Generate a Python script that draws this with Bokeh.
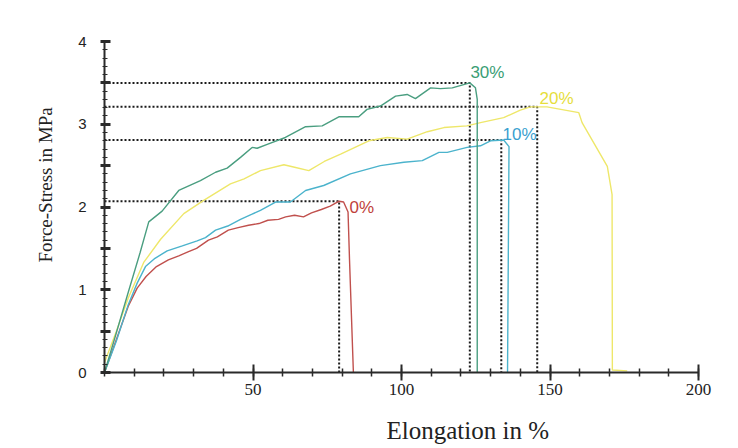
import math
from bokeh.plotting import figure
from bokeh.models import FixedTicker, Range1d, ColumnDataSource, Title, LinearAxis
from bokeh.core.properties import value
from bokeh.embed import file_html
from bokeh.resources import INLINE

# ---- data ----
x_0 = [0, 4, 8, 11, 14, 17.5, 21.5, 25, 28.3, 31, 35, 38, 41.7, 45, 48.5, 52, 55, 58.6,
       61, 64, 67, 69.7, 73, 76, 79, 80.5, 82, 82.5, 83.8]
y_0 = [0, 0.4, 0.8, 1.02, 1.16, 1.28, 1.36, 1.41, 1.46, 1.5, 1.6, 1.64, 1.72, 1.75, 1.78, 1.8, 1.84, 1.85,
       1.88, 1.9, 1.88, 1.93, 1.97, 2.01, 2.07, 2.06, 1.94, 1.36, 0]

x_10 = [0, 4, 8, 11, 13.8, 17, 21.1, 26.2, 31.2, 34, 37.4, 41.5, 45.8, 49.5, 52.5, 57.6, 62.6, 67.7,
        73.8, 82.8, 92.9, 100.8, 107, 112.6, 115.4, 122.1, 126.6, 130, 134.4, 136.2, 135.7]
y_10 = [0, 0.38, 0.82, 1.08, 1.28, 1.38, 1.47, 1.53, 1.59, 1.63, 1.72, 1.77, 1.85, 1.91, 1.96, 2.06, 2.06, 2.2,
        2.26, 2.4, 2.5, 2.54, 2.56, 2.66, 2.66, 2.72, 2.74, 2.8, 2.81, 2.73, 0]

x_20 = [0, 4, 8, 13.2, 18.9, 26.7, 33.4, 42.4, 47, 52.5, 60.4, 64, 68.8, 74, 79.5, 89, 95.2, 101.9,
        108.7, 114.3, 122, 126.6, 134.4, 140, 143.4, 149, 159.7, 160.8, 169.3, 170.9, 171, 176]
y_20 = [0.12, 0.5, 0.9, 1.33, 1.61, 1.92, 2.08, 2.28, 2.34, 2.44, 2.51, 2.48, 2.44, 2.55, 2.64, 2.8, 2.84, 2.82,
        2.91, 2.96, 2.98, 3.02, 3.08, 3.17, 3.21, 3.21, 3.14, 3.02, 2.49, 2.15, 0.03, 0.02]

x_30 = [0, 4, 8, 12, 14.9, 19.4, 25, 32.3, 37.4, 41.3, 45.8, 49.7, 51.4, 55, 60.9, 67.7, 73.3, 78.9,
        85.6, 88.4, 92.9, 98, 101.9, 104.7, 109.8, 113.1, 117.1, 123, 124.9, 125.5, 125.5]
y_30 = [0, 0.48, 0.97, 1.45, 1.82, 1.95, 2.2, 2.32, 2.42, 2.47, 2.6, 2.72, 2.71, 2.76, 2.84, 2.97, 2.98, 3.09,
        3.09, 3.18, 3.22, 3.34, 3.36, 3.31, 3.44, 3.43, 3.44, 3.5, 3.44, 3.3, 0]

series_names = ["0%", "10%", "20%", "30%"]
line_colors = ["#c0504d", "#4bb3cc", "#eee76a", "#4a9e80"]
label_colors = ["#c0413b", "#3a9fcf", "#e6de3c", "#3a9e74"]

# break (ultimate) points marked by dotted guide lines
break_x = [79, 133.6, 145.7, 123]
break_y = [2.07, 2.81, 3.21, 3.5]

# label anchors
label_x = [82.5, 134, 146.5, 123.2]
label_y = [2.0, 2.88, 3.31, 3.63]

y_ticks = [0, 0.5, 1, 1.5, 2, 2.5, 3, 3.5, 4]
y_minor = [k / 10 for k in range(41)]
x_ticks = [50, 100, 150, 200]
x_minor = list(range(0, 201, 10))

x_title = "Elongation in %"
y_title = "Force-Stress in MPa"

# ---- figure ----
p = figure(width=730, height=447, x_range=Range1d(0, 200), y_range=Range1d(0, 4),
           output_backend="svg", toolbar_location=None,
           min_border_left=104, min_border_right=32, min_border_top=41, min_border_bottom=75)
p.outline_line_color = None
p.xgrid.visible = False
p.ygrid.visible = False
p.background_fill_color = "white"
p.border_fill_color = "white"

# axes
for ax in (p.xaxis[0], p.yaxis[0]):
    ax.axis_line_width = 2
    ax.axis_line_color = "#2a2a2a"
    ax.major_tick_line_color = "#2a2a2a"
    ax.minor_tick_line_color = "#2a2a2a"
    ax.major_label_text_color = "#222222"

p.yaxis.ticker = FixedTicker(ticks=y_ticks, minor_ticks=y_minor)
p.yaxis.major_label_overrides = {t: ("" if t != int(t) else str(int(t))) for t in y_ticks}
p.yaxis.major_tick_line_width = 3
p.yaxis.major_tick_in = 6
p.yaxis.major_tick_out = 4
p.yaxis.minor_tick_line_width = 1
p.yaxis.minor_tick_in = 3
p.yaxis.minor_tick_out = 2
p.yaxis.major_label_text_font = "Liberation Sans"
p.yaxis.major_label_text_font_size = "15px"
p.yaxis.major_label_standoff = 14

p.xaxis.ticker = FixedTicker(ticks=x_ticks, minor_ticks=x_minor)
p.xaxis.major_tick_line_width = 2
p.xaxis.major_tick_in = 8
p.xaxis.major_tick_out = 8
p.xaxis.minor_tick_line_width = 1.5
p.xaxis.minor_tick_in = 4
p.xaxis.minor_tick_out = 4
p.xaxis.major_label_text_font = "Liberation Serif"
p.xaxis.major_label_text_font_size = "17px"
p.xaxis.major_label_standoff = 3

# dotted guide lines
p.multi_line(xs=[[0, bx, bx] for bx in break_x], ys=[[by, by, 0] for by in break_y],
             line_color="#1a1a1a", line_width=2, line_dash="2 2")

# curves
for xs, ys, c in zip([x_0, x_10, x_20, x_30], [y_0, y_10, y_20, y_30], line_colors):
    p.line(xs, ys, line_color=c, line_width=1.4)

# series labels
src = ColumnDataSource(dict(x=label_x, y=label_y, t=series_names, c=label_colors))
p.text(x="x", y="y", text="t", text_color="c", source=src, text_font=value("Liberation Sans"),
       text_font_size="17px", text_align="left", text_baseline="middle")

# invisible spacer axis between the tick labels and the x title
spacer = LinearAxis(ticker=FixedTicker(ticks=[0], minor_ticks=[]), axis_line_color=None,
                    major_tick_line_color=None, minor_tick_line_color=None,
                    major_tick_in=0, major_tick_out=17, minor_tick_in=0, minor_tick_out=0,
                    major_label_standoff=0, major_label_overrides={0: ""},
                    major_label_text_font_size="1px")
p.add_layout(spacer, "below")

# axis titles (offset as in the reference)
p.add_layout(Title(text=x_title, align="left", offset=282, standoff=0,
                   text_font="Liberation Serif", text_font_size="25px",
                   text_font_style="normal", text_color="#222222"), "below")
p.add_layout(Title(text=y_title, align="left", offset=110, standoff=40,
                   text_font="Liberation Serif", text_font_size="19px",
                   text_font_style="normal", text_color="#222222"), "left")

open("out.html", "w").write(file_html(p, INLINE))
